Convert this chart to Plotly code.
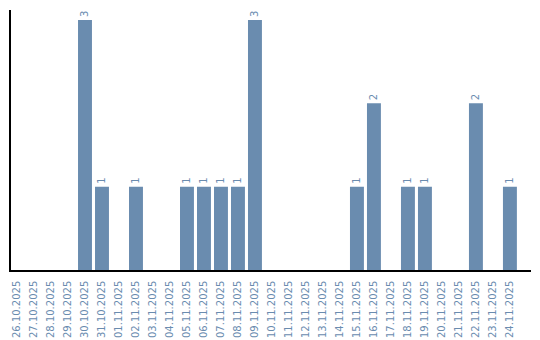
import plotly.graph_objects as go

dates = ["26.10.2025", "27.10.2025", "28.10.2025", "29.10.2025", "30.10.2025", "31.10.2025",
         "01.11.2025", "02.11.2025", "03.11.2025", "04.11.2025", "05.11.2025", "06.11.2025",
         "07.11.2025", "08.11.2025", "09.11.2025", "10.11.2025", "11.11.2025", "12.11.2025",
         "13.11.2025", "14.11.2025", "15.11.2025", "16.11.2025", "17.11.2025", "18.11.2025",
         "19.11.2025", "20.11.2025", "21.11.2025", "22.11.2025", "23.11.2025", "24.11.2025"]
counts = [0, 0, 0, 0, 3, 1, 0, 1, 0, 0, 1, 1, 1, 1, 3, 0, 0, 0, 0, 0, 1, 2, 0, 1, 1, 0, 0, 2, 0, 1]

bar_color = "#6a8caf"
labels = [str(v) if v > 0 else "" for v in counts]

fig = go.Figure(go.Bar(
    x=dates, y=counts, text=labels, textposition="outside", textangle=-90,
    cliponaxis=False,
    textfont=dict(family="DejaVu Sans", size=10, color=bar_color),
    marker=dict(color=bar_color, line=dict(width=0)),
))
fig.update_layout(
    width=540, height=340, margin=dict(l=11, r=9, t=10, b=70, autoexpand=False),
    plot_bgcolor="white", paper_bgcolor="white", bargap=0.18, showlegend=False,
    font=dict(family="DejaVu Sans", size=10, color=bar_color),
)
fig.update_xaxes(type="category", range=[-0.353, 30.24], tickangle=-90, showgrid=False,
                 showline=True, linecolor="black", linewidth=1.5, ticks="",
                 ticklabelstandoff=5, automargin=False,
                 tickfont=dict(family="DejaVu Sans", size=10, color=bar_color))
fig.update_yaxes(range=[0, 3.12], showgrid=False, showticklabels=False, zeroline=False,
                 automargin=False,
                 showline=True, linecolor="black", linewidth=1.5, ticks="")
fig.write_html("out.html")
